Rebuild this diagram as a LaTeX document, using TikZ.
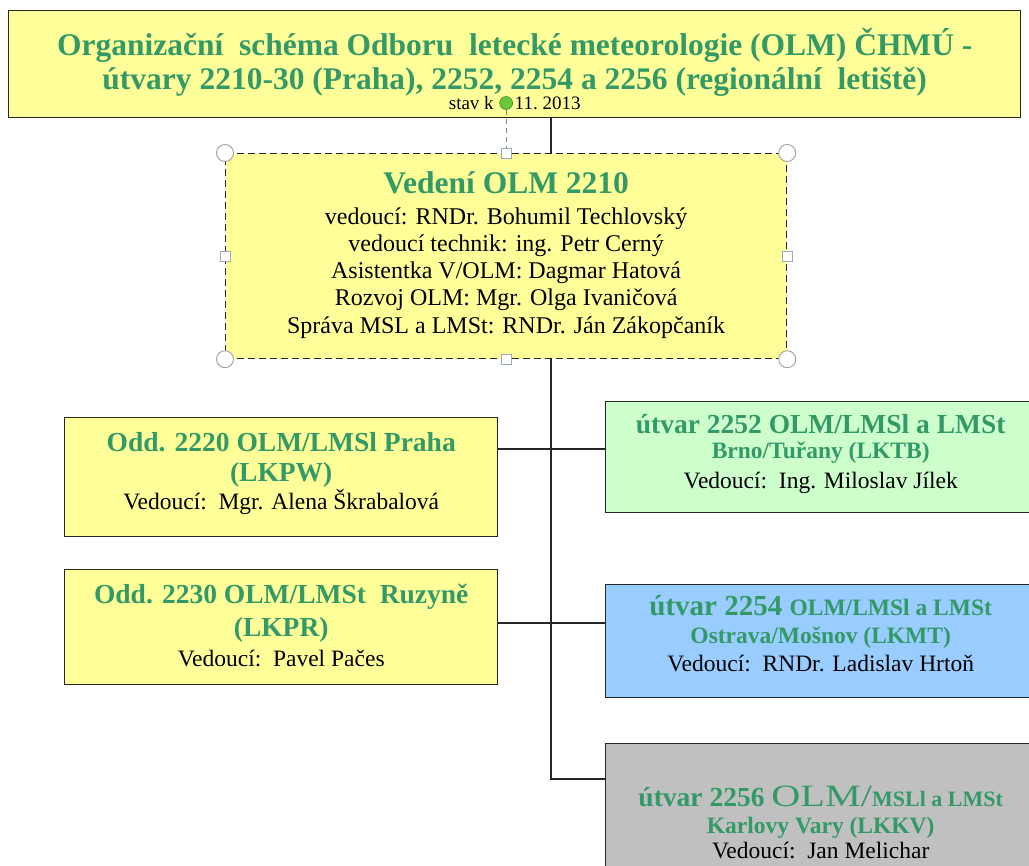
\documentclass[tikz,border=0pt]{standalone}
\usepackage{fontspec}
\usepackage{graphicx}
\setmainfont{Liberation Serif}
\definecolor{olmyellow}{HTML}{FFFF99}
\definecolor{olmgreen}{HTML}{339966}
\definecolor{brnogreen}{HTML}{CCFFCC}
\definecolor{ostravablue}{HTML}{99CCFF}
\definecolor{kvgray}{HTML}{C0C0C0}
\definecolor{knobline}{HTML}{9AAABB}
\definecolor{rotorgreen}{HTML}{6CC83A}
\newcommand{\olmhead}[2][27.5]{{\fontsize{#1}{28}\selectfont\bfseries\color{olmgreen}#2}}

\begin{document}
\begin{tikzpicture}[x=1pt,y=-1pt,
    unit/.style={draw=black!85,line width=1.4pt,align=center,inner sep=0pt,anchor=north west,
        font=\fontsize{23.5}{28}\selectfont},
    link/.style={draw=black!85,line width=1.5pt},
    ring/.style={circle,draw=gray!75,fill=white,line width=0.9pt,minimum size=17,inner sep=0pt},
    knob/.style={rectangle,draw=knobline,fill=white,line width=0.9pt,minimum size=10,inner sep=0pt},
    rotor/.style={circle,draw=rotorgreen!70!black,fill=rotorgreen,line width=0.6pt,minimum size=13,inner sep=0pt},
    tether/.style={draw=knobline!80!black,line width=1pt,dash pattern=on 5pt off 4pt}]
    \useasboundingbox (0,0) rectangle (1029,866);
    \clip (0,0) rectangle (1029,866);
    \fill[white] (0,0) rectangle (1029,866);

    \node[unit,fill=olmyellow,minimum width=1012,minimum height=107] (title) at (8,10) {};
    \node[align=center,inner sep=0pt,font=\fontsize{31.5}{34}\selectfont] (titletext) at ([yshift=-5pt]title.center)
        {\bfseries\color{olmgreen}Organizační\ \ schéma Odboru\ \ letecké meteorologie (OLM) ČHMÚ -\\
        \bfseries\color{olmgreen}útvary 2210-30 (Praha), 2252, 2254 a 2256 (regionální\ \ letiště)\\[-14pt]
        {\fontsize{19}{20}\selectfont stav k\hspace{21pt}11.\ 2013}};

    \node[unit,fill=olmyellow,dashed,dash pattern=on 7pt off 4pt,line width=1.2pt,minimum width=561,minimum height=205,
        font=\fontsize{24}{27.3}\selectfont,text depth=7pt] (lead) at (225,153)
        {\olmhead[31.5]{Vedení OLM 2210}\\[3pt]
        vedoucí: RNDr. Bohumil Techlovský\\
        vedoucí technik: ing. Petr Cerný\\
        Asistentka V/OLM: Dagmar Hatová\\
        Rozvoj OLM: Mgr. Olga Ivaničová\\
        Správa MSL a LMSt: RNDr. Ján Zákopčaník};

    \node[unit,fill=olmyellow,minimum width=433,minimum height=119,text depth=13pt] (praha) at (64,417)
        {\olmhead{Odd. 2220 OLM/LMSl Praha}\\[2pt]
        \olmhead{(LKPW)}\\
        Vedoucí:\ \ Mgr. Alena Škrabalová};

    \node[unit,fill=olmyellow,minimum width=433,minimum height=115,font=\fontsize{23.5}{30}\selectfont,
        text depth=4pt] (ruzyne) at (64,569)
        {\olmhead{Odd. 2230 OLM/LMSt\ \ Ruzyně}\\[3pt]
        \olmhead{(LKPR)}\\
        Vedoucí:\ \ Pavel Pačes};

    \node[unit,fill=brnogreen,minimum width=430,minimum height=111,text depth=12pt] (brno) at (605,401)
        {\olmhead{útvar 2252 OLM/LMSl a LMSt}\\[-3pt]
        \olmhead[23.5]{Brno/Tuřany (LKTB)}\\[2pt]
        Vedoucí:\ \ Ing. Miloslav Jílek};

    \node[unit,fill=ostravablue,minimum width=430,minimum height=113,text depth=15pt] (ostrava) at (605,584)
        {\olmhead[29]{útvar 2254\ }\olmhead[23.5]{ OLM/LMSl a LMSt}\\
        \olmhead[23.5]{Ostrava/Mošnov (LKMT)}\\
        Vedoucí:\ \ RNDr. Ladislav Hrtoň};

    \node[unit,fill=kvgray,minimum width=430,minimum height=162,text depth=5pt] (kv) at (605,743)
        {\olmhead{útvar 2256 }{\fontsize{31}{28}\selectfont\color{olmgreen}\scalebox{1.3}[1]{OLM/}}\olmhead[22]{MSLl a LMSt}\\[-1pt]
        \olmhead[23.5]{Karlovy Vary (LKKV)}\\[-3pt]
        Vedoucí:\ \ Jan Melichar};

    \coordinate (spine) at (551,0);
    \coordinate (kvin) at (kv.west |- 0,779);
    \draw[link] (title.south -| spine) -- (lead.north -| spine);
    \draw[link] (lead.south -| spine) |- (kvin);
    \draw[link] (praha.east |- 0,449) -- (brno.west |- 0,449);
    \draw[link] (ruzyne.east |- 0,623) -- (ostrava.west |- 0,623);

    \foreach \c in {north west,north east,south west,south east}
        \node[ring] (ring-\c) at (lead.\c) {};
    \foreach \c in {north,south,east,west}
        \node[knob] (knob-\c) at (lead.\c) {};
    \node[rotor] (rotor) at (lead.north |- 0,103) {};
    \draw[tether] (rotor) -- (knob-north);
\end{tikzpicture}
\end{document}
